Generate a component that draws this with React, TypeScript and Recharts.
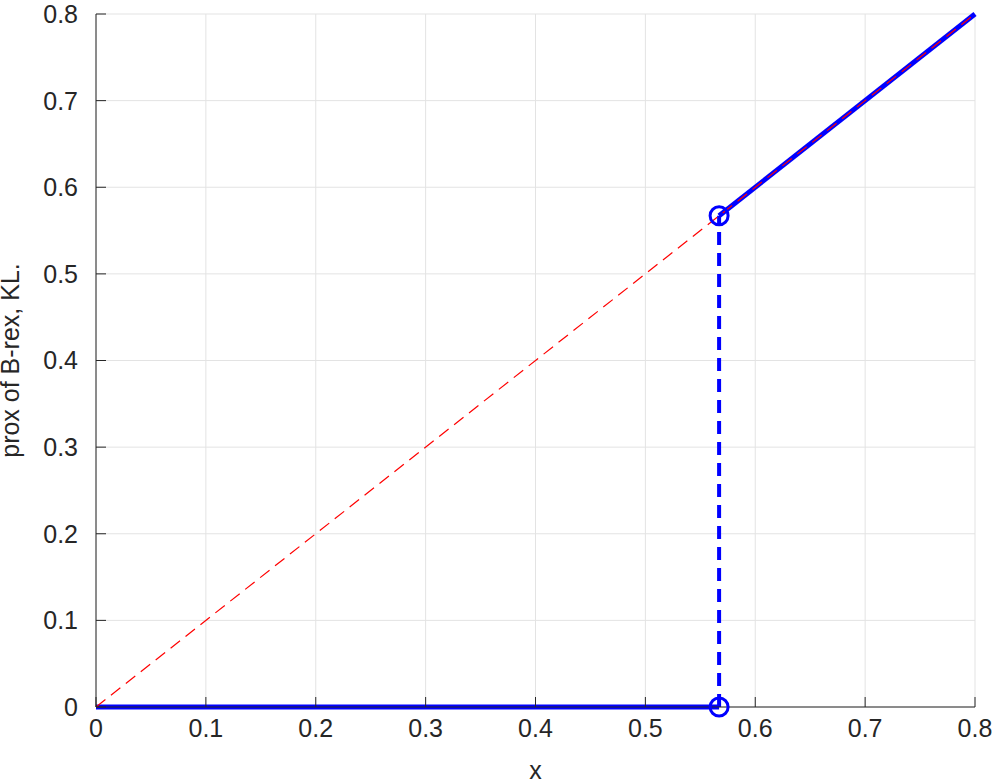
import {
  ComposedChart,
  Line,
  Scatter,
  XAxis,
  YAxis,
  CartesianGrid,
} from "recharts";

const TICKS = [0, 0.1, 0.2, 0.3, 0.4, 0.5, 0.6, 0.7, 0.8];
const THRESHOLD = 0.5671;

const identityLine = [
  { x: 0, y: 0 },
  { x: 0.8, y: 0.8 },
];
const zeroBranch = [
  { x: 0, y: 0 },
  { x: THRESHOLD, y: 0 },
];
const upperBranch = [
  { x: THRESHOLD, y: THRESHOLD },
  { x: 0.8, y: 0.8 },
];
const jumpLine = [
  { x: THRESHOLD, y: 0 },
  { x: THRESHOLD, y: THRESHOLD },
];
const jumpPoints = [
  { x: THRESHOLD, y: 0 },
  { x: THRESHOLD, y: THRESHOLD },
];

const AXIS = "#262626";
const FONT = "'Liberation Sans', Arial, sans-serif";

const Ring = (props: any) => (
  <circle
    cx={props.cx}
    cy={props.cy}
    r={9}
    fill="none"
    stroke="#0000ff"
    strokeWidth={3}
  />
);

export default function App() {
  return (
    <div style={{ position: "fixed", left: 0, top: 0, background: "#fff" }}>
      <ComposedChart
        width={997}
        height={781}
        margin={{ top: 14, right: 22, left: 0, bottom: 0 }}
        style={{ fontFamily: FONT }}
      >
        <CartesianGrid stroke="#e3e3e3" strokeWidth={1} />
        <XAxis
          type="number"
          dataKey="x"
          domain={[0, 0.8]}
          ticks={TICKS}
          height={74}
          stroke={AXIS}
          tickSize={-10}
          tickMargin={22}
          tick={{ fill: AXIS, fontSize: 25 }}
          label={{
            value: "x",
            position: "insideBottom",
            offset: 2,
            fill: AXIS,
            fontSize: 25,
          }}
        />
        <YAxis
          type="number"
          dataKey="y"
          domain={[0, 0.8]}
          ticks={TICKS}
          width={96}
          stroke={AXIS}
          tickSize={-10}
          tickMargin={28}
          tick={{ fill: AXIS, fontSize: 25 }}
          label={{
            value: "prox of B-rex, KL.",
            angle: -90,
            position: "insideLeft",
            offset: 10,
            fill: AXIS,
            fontSize: 25,
            style: { textAnchor: "middle" },
          }}
        />
        <Line
          data={zeroBranch}
          dataKey="y"
          stroke="#0000ff"
          strokeWidth={5}
          dot={false}
          isAnimationActive={false}
        />
        <Line
          data={upperBranch}
          dataKey="y"
          stroke="#0000ff"
          strokeWidth={5}
          dot={false}
          isAnimationActive={false}
        />
        <Line
          data={jumpLine}
          dataKey="y"
          stroke="#0000ff"
          strokeWidth={4}
          strokeDasharray="13 8"
          dot={false}
          isAnimationActive={false}
        />
        <Scatter
          data={jumpPoints}
          dataKey="y"
          shape={<Ring />}
          isAnimationActive={false}
        />
        <Line
          data={identityLine}
          dataKey="y"
          stroke="#ff0000"
          strokeWidth={1.2}
          strokeDasharray="12 7"
          dot={false}
          isAnimationActive={false}
        />
      </ComposedChart>
    </div>
  );
}
